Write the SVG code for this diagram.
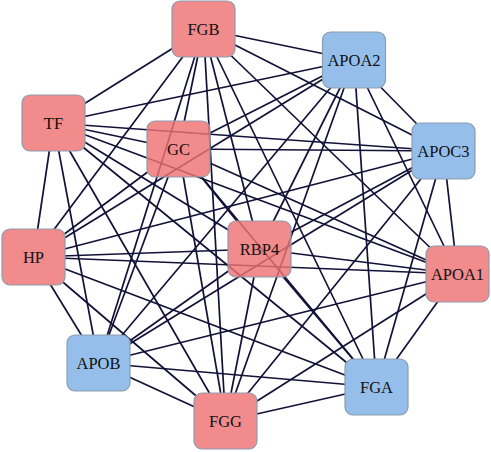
<svg xmlns="http://www.w3.org/2000/svg" width="491" height="452" viewBox="0 0 491 452">
<style>
.e line{stroke:#121238;stroke-width:1.7}
.n rect{stroke:#8d9cad;stroke-width:1.2}
.r rect{fill:#ef7272;fill-opacity:0.82}
.b rect{fill:#8cbae8;fill-opacity:0.92}
.n text{font-family:"Liberation Serif","DejaVu Serif",serif;font-size:16.5px;fill:#111;text-anchor:middle}
</style>
<defs>
<mask id="mFGB" maskUnits="userSpaceOnUse" x="0" y="0" width="491" height="452"><rect width="491" height="452" fill="#fff"/><rect x="172" y="1" width="63" height="56" rx="8" fill="#000"/></mask>
<mask id="mAPOA2" maskUnits="userSpaceOnUse" x="0" y="0" width="491" height="452"><rect width="491" height="452" fill="#fff"/><rect x="322.5" y="32" width="63" height="56" rx="8" fill="#000"/></mask>
<mask id="mAPOC3" maskUnits="userSpaceOnUse" x="0" y="0" width="491" height="452"><rect width="491" height="452" fill="#fff"/><rect x="412" y="123" width="63" height="56" rx="8" fill="#000"/></mask>
<mask id="mAPOA1" maskUnits="userSpaceOnUse" x="0" y="0" width="491" height="452"><rect width="491" height="452" fill="#fff"/><rect x="426" y="246" width="63" height="56" rx="8" fill="#000"/></mask>
<mask id="mFGA" maskUnits="userSpaceOnUse" x="0" y="0" width="491" height="452"><rect width="491" height="452" fill="#fff"/><rect x="345" y="359" width="63" height="56" rx="8" fill="#000"/></mask>
<mask id="mFGG" maskUnits="userSpaceOnUse" x="0" y="0" width="491" height="452"><rect width="491" height="452" fill="#fff"/><rect x="194" y="393" width="63" height="56" rx="8" fill="#000"/></mask>
<mask id="mAPOB" maskUnits="userSpaceOnUse" x="0" y="0" width="491" height="452"><rect width="491" height="452" fill="#fff"/><rect x="67" y="335" width="63" height="56" rx="8" fill="#000"/></mask>
<mask id="mHP" maskUnits="userSpaceOnUse" x="0" y="0" width="491" height="452"><rect width="491" height="452" fill="#fff"/><rect x="2" y="229" width="63" height="56" rx="8" fill="#000"/></mask>
<mask id="mTF" maskUnits="userSpaceOnUse" x="0" y="0" width="491" height="452"><rect width="491" height="452" fill="#fff"/><rect x="22" y="95" width="63" height="56" rx="8" fill="#000"/></mask>
<mask id="mGC" maskUnits="userSpaceOnUse" x="0" y="0" width="491" height="452"><rect width="491" height="452" fill="#fff"/><rect x="147" y="121" width="63" height="56" rx="8" fill="#000"/></mask>
<mask id="mRBP4" maskUnits="userSpaceOnUse" x="0" y="0" width="491" height="452"><rect width="491" height="452" fill="#fff"/><rect x="228" y="221" width="63" height="56" rx="8" fill="#000"/></mask>
</defs>
<rect width="491" height="452" fill="#fff"/>
<g id="edges" class="e">
<g mask="url(#mFGB)">
<line x1="203.5" y1="29" x2="354" y2="60" mask="url(#mAPOA2)"/>
<line x1="203.5" y1="29" x2="443.5" y2="151" mask="url(#mAPOC3)"/>
<line x1="203.5" y1="29" x2="457.5" y2="274" mask="url(#mAPOA1)"/>
<line x1="203.5" y1="29" x2="376.5" y2="387" mask="url(#mFGA)"/>
<line x1="203.5" y1="29" x2="225.5" y2="421" mask="url(#mFGG)"/>
<line x1="203.5" y1="29" x2="98.5" y2="363" mask="url(#mAPOB)"/>
<line x1="203.5" y1="29" x2="33.5" y2="257" mask="url(#mHP)"/>
<line x1="203.5" y1="29" x2="53.5" y2="123" mask="url(#mTF)"/>
<line x1="203.5" y1="29" x2="178.5" y2="149" mask="url(#mGC)"/>
<line x1="203.5" y1="29" x2="259.5" y2="249" mask="url(#mRBP4)"/>
</g>
<g mask="url(#mAPOA2)">
<line x1="354" y1="60" x2="443.5" y2="151" mask="url(#mAPOC3)"/>
<line x1="354" y1="60" x2="457.5" y2="274" mask="url(#mAPOA1)"/>
<line x1="354" y1="60" x2="376.5" y2="387" mask="url(#mFGA)"/>
<line x1="354" y1="60" x2="225.5" y2="421" mask="url(#mFGG)"/>
<line x1="354" y1="60" x2="98.5" y2="363" mask="url(#mAPOB)"/>
<line x1="354" y1="60" x2="33.5" y2="257" mask="url(#mHP)"/>
<line x1="354" y1="60" x2="53.5" y2="123" mask="url(#mTF)"/>
<line x1="354" y1="60" x2="178.5" y2="149" mask="url(#mGC)"/>
<line x1="354" y1="60" x2="259.5" y2="249" mask="url(#mRBP4)"/>
</g>
<g mask="url(#mAPOC3)">
<line x1="443.5" y1="151" x2="457.5" y2="274" mask="url(#mAPOA1)"/>
<line x1="443.5" y1="151" x2="376.5" y2="387" mask="url(#mFGA)"/>
<line x1="443.5" y1="151" x2="225.5" y2="421" mask="url(#mFGG)"/>
<line x1="443.5" y1="151" x2="98.5" y2="363" mask="url(#mAPOB)"/>
<line x1="443.5" y1="151" x2="33.5" y2="257" mask="url(#mHP)"/>
<line x1="443.5" y1="151" x2="53.5" y2="123" mask="url(#mTF)"/>
<line x1="443.5" y1="151" x2="178.5" y2="149" mask="url(#mGC)"/>
<line x1="443.5" y1="151" x2="259.5" y2="249" mask="url(#mRBP4)"/>
</g>
<g mask="url(#mAPOA1)">
<line x1="457.5" y1="274" x2="376.5" y2="387" mask="url(#mFGA)"/>
<line x1="457.5" y1="274" x2="225.5" y2="421" mask="url(#mFGG)"/>
<line x1="457.5" y1="274" x2="98.5" y2="363" mask="url(#mAPOB)"/>
<line x1="457.5" y1="274" x2="33.5" y2="257" mask="url(#mHP)"/>
<line x1="457.5" y1="274" x2="53.5" y2="123" mask="url(#mTF)"/>
<line x1="457.5" y1="274" x2="178.5" y2="149" mask="url(#mGC)"/>
<line x1="457.5" y1="274" x2="259.5" y2="249" mask="url(#mRBP4)"/>
</g>
<g mask="url(#mFGA)">
<line x1="376.5" y1="387" x2="225.5" y2="421" mask="url(#mFGG)"/>
<line x1="376.5" y1="387" x2="98.5" y2="363" mask="url(#mAPOB)"/>
<line x1="376.5" y1="387" x2="33.5" y2="257" mask="url(#mHP)"/>
<line x1="376.5" y1="387" x2="53.5" y2="123" mask="url(#mTF)"/>
<line x1="376.5" y1="387" x2="178.5" y2="149" mask="url(#mGC)"/>
<line x1="376.5" y1="387" x2="259.5" y2="249" mask="url(#mRBP4)"/>
</g>
<g mask="url(#mFGG)">
<line x1="225.5" y1="421" x2="98.5" y2="363" mask="url(#mAPOB)"/>
<line x1="225.5" y1="421" x2="33.5" y2="257" mask="url(#mHP)"/>
<line x1="225.5" y1="421" x2="53.5" y2="123" mask="url(#mTF)"/>
<line x1="225.5" y1="421" x2="178.5" y2="149" mask="url(#mGC)"/>
<line x1="225.5" y1="421" x2="259.5" y2="249" mask="url(#mRBP4)"/>
</g>
<g mask="url(#mAPOB)">
<line x1="98.5" y1="363" x2="33.5" y2="257" mask="url(#mHP)"/>
<line x1="98.5" y1="363" x2="53.5" y2="123" mask="url(#mTF)"/>
<line x1="98.5" y1="363" x2="178.5" y2="149" mask="url(#mGC)"/>
<line x1="98.5" y1="363" x2="259.5" y2="249" mask="url(#mRBP4)"/>
</g>
<g mask="url(#mHP)">
<line x1="33.5" y1="257" x2="53.5" y2="123" mask="url(#mTF)"/>
<line x1="33.5" y1="257" x2="178.5" y2="149" mask="url(#mGC)"/>
<line x1="33.5" y1="257" x2="259.5" y2="249" mask="url(#mRBP4)"/>
</g>
<g mask="url(#mTF)">
<line x1="53.5" y1="123" x2="178.5" y2="149" mask="url(#mGC)"/>
<line x1="53.5" y1="123" x2="259.5" y2="249" mask="url(#mRBP4)"/>
</g>
<g mask="url(#mGC)">
<line x1="178.5" y1="149" x2="259.5" y2="249" mask="url(#mRBP4)"/>
</g>
</g>
<g id="FGB" class="n r"><rect x="172" y="1" width="63" height="56" rx="8"/><text x="203.5" y="34.5">FGB</text></g>
<g id="APOA2" class="n b"><rect x="322.5" y="32" width="63" height="56" rx="8"/><text x="354" y="65.5">APOA2</text></g>
<g id="APOC3" class="n b"><rect x="412" y="123" width="63" height="56" rx="8"/><text x="443.5" y="156.5">APOC3</text></g>
<g id="APOA1" class="n r"><rect x="426" y="246" width="63" height="56" rx="8"/><text x="457.5" y="279.5">APOA1</text></g>
<g id="FGA" class="n b"><rect x="345" y="359" width="63" height="56" rx="8"/><text x="376.5" y="392.5">FGA</text></g>
<g id="FGG" class="n r"><rect x="194" y="393" width="63" height="56" rx="8"/><text x="225.5" y="426.5">FGG</text></g>
<g id="APOB" class="n b"><rect x="67" y="335" width="63" height="56" rx="8"/><text x="98.5" y="368.5">APOB</text></g>
<g id="HP" class="n r"><rect x="2" y="229" width="63" height="56" rx="8"/><text x="33.5" y="262.5">HP</text></g>
<g id="TF" class="n r"><rect x="22" y="95" width="63" height="56" rx="8"/><text x="53.5" y="128.5">TF</text></g>
<g id="GC" class="n r"><rect x="147" y="121" width="63" height="56" rx="8"/><text x="178.5" y="154.5">GC</text></g>
<g id="RBP4" class="n r"><rect x="228" y="221" width="63" height="56" rx="8"/><text x="259.5" y="254.5">RBP4</text></g>
</svg>
